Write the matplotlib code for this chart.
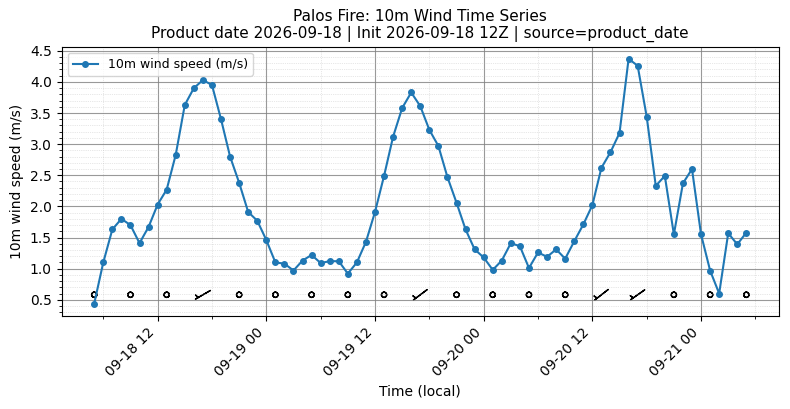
import numpy as np
import pandas as pd
import matplotlib
matplotlib.use('Agg')
import matplotlib.pyplot as plt
import matplotlib.dates as mdates
from matplotlib.ticker import MultipleLocator

start = '2026-09-18 05:00'

# hourly 10m wind speed (m/s)
wind_speed = [
    0.44, 1.10, 1.63, 1.80, 1.70, 1.41, 1.67, 2.03, 2.27, 2.83,
    3.63, 3.90, 4.03, 3.95, 3.40, 2.80, 2.38, 1.91, 1.77, 1.46,
    1.10, 1.08, 0.97, 1.13, 1.22, 1.09, 1.12, 1.12, 0.92, 1.10,
    1.43, 1.91, 2.49, 3.12, 3.58, 3.83, 3.61, 3.23, 2.97, 2.47,
    2.06, 1.63, 1.31, 1.18, 0.98, 1.13, 1.41, 1.36, 1.01, 1.26,
    1.19, 1.31, 1.16, 1.44, 1.71, 2.02, 2.62, 2.87, 3.18, 4.37,
    4.26, 3.44, 2.33, 2.49, 1.55, 2.37, 2.60, 1.55, 0.97, 0.60,
    1.57, 1.39, 1.58,
]

# wind direction (deg, from) at every 4th hour, for the barbs
barb_step = 4
barb_dir = [240, 245, 245, 240, 247, 245, 240, 240, 240, 233,
            240, 240, 240, 240, 232, 235, 240, 240, 240]
barb_y = 0.58

times = pd.date_range(start, periods=len(wind_speed), freq='h')
speed = np.array(wind_speed)

fig, ax = plt.subplots(figsize=(7.9, 4.09), dpi=100)
fig.subplots_adjust(left=0.078, right=0.986, top=0.886, bottom=0.228)

ax.plot(times, speed, marker='o', markersize=4, linewidth=1.5,
        color='tab:blue', label='10m wind speed (m/s)')

# wind barbs along the bottom
bt = times[::barb_step]
bs = speed[::barb_step]
rad = np.deg2rad(barb_dir)
u = -bs * np.sin(rad)
v = -bs * np.cos(rad)
ax.barbs(mdates.date2num(bt), np.full(len(bt), barb_y), u, v,
         length=5, pivot='middle', linewidth=1.0, color='black')

ax.set_title('Palos Fire: 10m Wind Time Series\n'
             'Product date 2026-09-18 | Init 2026-09-18 12Z | source=product_date',
             fontsize=11)
ax.set_xlabel('Time (local)')
ax.set_ylabel('10m wind speed (m/s)')

ax.xaxis.set_major_locator(mdates.HourLocator(byhour=[0, 12]))
ax.xaxis.set_minor_locator(mdates.HourLocator(byhour=[6, 18]))
ax.xaxis.set_major_formatter(mdates.DateFormatter('%m-%d %H'))
ax.yaxis.set_major_locator(MultipleLocator(0.5))
ax.yaxis.set_minor_locator(MultipleLocator(0.1))
plt.setp(ax.get_xticklabels(), rotation=45, ha='right')

ax.grid(True, which='major', color='gray', linewidth=0.8, alpha=0.8)
ax.grid(True, which='minor', linestyle=':', linewidth=0.5, alpha=0.6)

ax.legend(loc='upper left', fontsize=9)

fig.savefig('out.png')
